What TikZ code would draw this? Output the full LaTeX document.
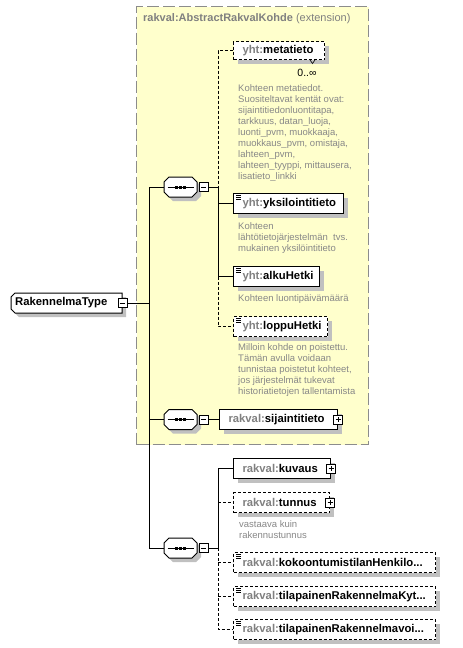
\documentclass[tikz,border=0pt]{standalone}
\usepackage{fontspec}
\setmainfont{Liberation Sans}
\usetikzlibrary{shadows}
\definecolor{extyellow}{RGB}{255,255,204}
\definecolor{extborder}{RGB}{140,140,140}
\definecolor{pfx}{RGB}{128,128,128}
\definecolor{desc}{RGB}{136,136,136}
\definecolor{shadowgray}{RGB}{192,192,192}
\newcommand\elemfont{\fontsize{11.3}{13}\selectfont\bfseries}
\newcommand\descfont{\fontsize{9.5}{11}\selectfont}
\newcommand\el[3]{\makebox[#1pt][l]{\textcolor{pfx}{#2:}#3}}
\newcommand\octa[5]{(#1+#5,#2) -- (#3-#5,#2) -- (#3,#2+#5) -- (#3,#4-#5) -- (#3-#5,#4) -- (#1+#5,#4) -- (#1,#4-#5) -- (#1,#2+#5) -- cycle}
\newcommand\compshape[4]{% x1 y1 x2 y2
  \fill[shadowgray] \octa{#1+4}{#2+4}{#3+4}{#4+4}{5};
  \filldraw[fill=white, draw=black, line width=1pt] \octa{#1}{#2}{#3}{#4}{5};}
\pgfdeclarelayer{bg}
\pgfdeclarelayer{shapes}
\pgfsetlayers{bg,shapes,main}
\begin{document}
\begin{tikzpicture}[x=1pt,y=-1pt,
 shadowed/.style={general shadow={fill=shadowgray, shadow xshift=4pt, shadow yshift=-4pt}},
 elem/.style={draw=black, line width=1pt, fill=white, shadowed, anchor=north west, minimum height=20, inner xsep=9, inner ysep=0, font=\elemfont},
 optbox/.style={dash pattern=on 3pt off 2pt},
 conn/.style={line width=1pt, black},
 optline/.style={dash pattern=on 3pt off 2pt},
 descr/.style={anchor=north west, inner sep=0, align=left, text=desc, font=\descfont},
 pmbox/.style={draw, fill=white, line width=0.8pt, minimum size=9, inner sep=0},
 minusbox/.style={pmbox, path picture={\draw[line width=0.8pt] ([xshift=2]path picture bounding box.west) -- ([xshift=-2]path picture bounding box.east);}},
 plusbox/.style={pmbox, path picture={\draw[line width=0.8pt] ([xshift=2]path picture bounding box.west) -- ([xshift=-2]path picture bounding box.east) ([yshift=-2]path picture bounding box.north) -- ([yshift=2]path picture bounding box.south);}},
 comp/.style={rectangle, minimum width=33, minimum height=20, inner sep=0},
]
\useasboundingbox (0,0) rectangle (463,648);
\begin{pgfonlayer}{bg}
\fill[white] (0,0) rectangle (463,648);
% extension area
\node[draw=extborder, fill=extyellow, line width=1pt, dash pattern=on 12pt off 4pt, minimum width=232, minimum height=438, anchor=north west, inner sep=0] (ext) at (136,6) {};
\end{pgfonlayer}
\node[anchor=west, inner sep=0, text=pfx, font=\fontsize{11}{13}\selectfont] (title) at (143,19) {\textbf{rakval:AbstractRakvalKohde} (extension)};

% elements
\node[elem, optbox, minimum height=18] (meta) at (233,41) {\el{73}{yht}{metatieto}};
\node[elem] (yks) at (233,193) {\el{92}{yht}{yksilointitieto}};
\node[elem] (alku) at (233,266) {\el{68}{yht}{alkuHetki}};
\node[elem, optbox] (loppu) at (233,316) {\el{76}{yht}{loppuHetki}};
\node[elem] (sij) at (219,409) {\el{100}{rakval}{sijaintitieto}};
\node[elem] (kuv) at (233,458) {\el{79}{rakval}{kuvaus}};
\node[elem, optbox] (tun) at (233,492) {\el{78}{rakval}{tunnus}};
\node[elem, optbox] (koko) at (233,552) {\el{184}{rakval}{kokoontumistilanHenkilo...}};
\node[elem, optbox] (tk) at (233,586) {\el{184}{rakval}{tilapainenRakennelmaKyt...}};
\node[elem, optbox] (tv) at (233,619) {\el{184}{rakval}{tilapainenRakennelmavoi...}};

% root type
\node[rectangle, minimum width=111, minimum height=20, inner xsep=0, inner ysep=0, anchor=west, font=\elemfont] (type) at (11,303) {\makebox[103pt][l]{RakennelmaType}};
\begin{pgfonlayer}{shapes}
\fill[shadowgray] (19,297) -- (126,297) -- (126,317) -- (19,317) -- (15,313) -- (15,301) -- cycle;
\filldraw[fill=white, draw=black, line width=1pt] (15,293) -- (122,293) -- (122,313) -- (15,313) -- (11,309) -- (11,297) -- cycle;
% compositors
\compshape{164}{177}{197}{197}
\compshape{164}{409.5}{197}{429.5}
\compshape{164}{538}{197}{558}
\end{pgfonlayer}
\node[comp] (c1) at (180.5,187) {};
\node[comp] (c2) at (180.5,419.5) {};
\node[comp] (c3) at (180.5,548) {};
\foreach \c in {c1,c2,c3} {
  \draw[line width=1pt] ([xshift=-13]\c.center) -- ([xshift=13]\c.center);
  \foreach \d in {-4,0,4} \fill ([xshift=\d]\c.center) +(-1.5,-1.5) rectangle +(1.5,1.5);
}

% minus / plus boxes
\node[minusbox] (m1) at (203.5,187) {};
\node[minusbox] (m2) at (203.5,419.5) {};
\node[minusbox] (m3) at (203.5,548) {};
\node[minusbox] (tm) at (type.east) {};
\node[plusbox] (sijp) at (sij.east) {};
\node[plusbox] (kuvp) at (kuv.east) {};
\node[plusbox] (tunp) at (tun.east) {};

% simple-type icons
\foreach \n in {yks,alku,loppu,koko,tk,tv}
  \draw[line width=0.8pt] ([shift={(3,2.5)}]\n.north west) -- ++(5,0)
    ([shift={(3,4.5)}]\n.north west) -- ++(5,0)
    ([shift={(3,6.5)}]\n.north west) -- ++(5,0);

% multiplicity
\node[inner sep=0, font=\fontsize{10.5}{12}\selectfont] (mult) at (307,73) {0..∞};
\draw[line width=0.6pt] ([shift={(-15,0)}]meta.south east) -- ++(2.5,3.5) -- ++(2.5,-3.5);

% descriptions
\node[descr] (dmeta) at (238,84) {Kohteen metatiedot.\\Suositeltavat kentät ovat:\\sijaintitiedonluontitapa,\\tarkkuus, datan\_luoja,\\luonti\_pvm, muokkaaja,\\muokkaus\_pvm, omistaja,\\lahteen\_pvm,\\lahteen\_tyyppi, mittausera,\\lisatieto\_linkki};
\node[descr] (dyks) at (238,222) {Kohteen\\lähtötietojärjestelmän~ tvs.\\mukainen yksilöintitieto};
\node[descr] (dalku) at (238,294) {Kohteen luontipäivämäärä};
\node[descr] (dloppu) at (238,343) {Milloin kohde on poistettu.\\Tämän avulla voidaan\\tunnistaa poistetut kohteet,\\jos järjestelmät tukevat\\historiatietojen tallentamista};
\node[descr] (dtun) at (239,520) {vastaava kuin\\rakennustunnus};

% connectors
\coordinate (trunk) at (149,303);
\coordinate (j1) at (218,187);
\coordinate (j3) at (218,548);
\draw[conn] (tm.east) -- (trunk);
\draw[conn] (c1.west) -| (trunk);
\draw[conn] (trunk) |- (c3.west);
\draw[conn] (c2.west) -- (c2.west -| trunk);
\draw[conn] (m1.east) -- (j1);
\draw[conn, optline] (meta.west) -| (j1);
\draw[conn] (j1) |- (yks.west);
\draw[conn] (j1) |- (alku.west);
\draw[conn, optline] (alku.west -| j1) |- (loppu.west);
\draw[conn] (m2.east) -- (sij.west);
\draw[conn] (m3.east) -- (j3);
\draw[conn] (j3) |- (kuv.west);
\draw[conn, optline] (tun.west -| j3) -- (tun.west);
\draw[conn, optline] (j3) |- (tv.west);
\draw[conn, optline] (koko.west -| j3) -- (koko.west);
\draw[conn, optline] (tk.west -| j3) -- (tk.west);
\end{tikzpicture}
\end{document}
